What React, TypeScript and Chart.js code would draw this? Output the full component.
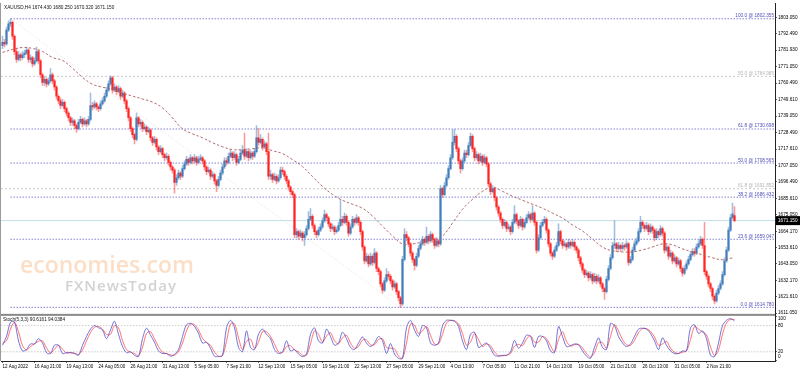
import React, { useEffect, useRef } from "react";
import { Chart, registerables } from "chart.js";

Chart.register(...registerables);

// ---------------- data ----------------
const symbolTitle = "XAUUSD,H4 1674.430 1680.250 1670.320 1671.150";
const stochTitle = "Stoch(5,3,3) 90.6161 94.0384";
const watermarkMain = "economies.com";
const watermarkSub = "FXNewsToday";

const timeLabels = [
  "12 Aug 2022", "16 Aug 21:00", "19 Aug 13:00", "24 Aug 05:00", "26 Aug 21:00", "31 Aug 13:00",
  "5 Sep 05:00", "7 Sep 21:00", "12 Sep 13:00", "15 Sep 05:00", "19 Sep 21:00", "22 Sep 13:00",
  "27 Sep 05:00", "29 Sep 21:00", "4 Oct 13:00", "7 Oct 05:00", "11 Oct 21:00", "14 Oct 13:00",
  "19 Oct 05:00", "21 Oct 21:00", "26 Oct 13:00", "31 Oct 05:00", "2 Nov 21:00",
];
const barsPerTimeLabel = 16;

const priceTicks = [
  1803.05, 1792.49, 1781.93, 1771.05, 1760.49, 1749.61, 1739.05, 1728.49, 1717.61, 1707.05,
  1696.49, 1685.61, 1675.05, 1664.17, 1653.61, 1643.05, 1632.17, 1621.61, 1611.05,
];
const stochTicks = [100, 80, 20, 0];
const stochLevels = [80, 20];

const fibRatios = [100.0, 61.8, 50.0, 38.2, 23.6, 0.0];
const fibPrices = [1802.355, 1730.698, 1708.565, 1686.432, 1659.047, 1614.78];
const fib2Ratios = [50.0, 61.8];
const fib2Prices = [1764.985, 1691.852];
const currentPrice = 1671.15;

const opens = [
  1785, 1787, 1786, 1795, 1799, 1800, 1791, 1781, 1776, 1779,
  1777, 1779, 1780, 1782, 1776, 1777, 1773, 1775, 1781, 1775,
  1766, 1761, 1763, 1760, 1762, 1766, 1762, 1758, 1752, 1749,
  1746, 1748, 1744, 1741, 1738, 1735, 1736, 1733, 1731, 1735,
  1737, 1734, 1736, 1734, 1737, 1746, 1745, 1747, 1745, 1744,
  1747, 1749, 1752, 1756, 1760, 1764, 1756, 1758, 1755, 1757,
  1752, 1754, 1749, 1744, 1738, 1731, 1727, 1724, 1738, 1734,
  1735, 1731, 1732, 1729, 1730, 1725, 1722, 1724, 1719, 1716,
  1718, 1714, 1712, 1713, 1709, 1706, 1704, 1696, 1699, 1702,
  1700, 1705, 1708, 1711, 1709, 1712, 1710, 1712, 1709, 1711,
  1712, 1710, 1706, 1703, 1704, 1700, 1701, 1697, 1694, 1698,
  1702, 1706, 1710, 1709, 1713, 1715, 1712, 1714, 1709, 1711,
  1715, 1717, 1713, 1716, 1712, 1715, 1713, 1716, 1725, 1722,
  1724, 1719, 1721, 1716, 1700, 1701, 1698, 1700, 1697, 1699,
  1704, 1703, 1700, 1697, 1693, 1690, 1688, 1662, 1664, 1661,
  1663, 1660, 1662, 1666, 1672, 1674, 1668, 1664, 1662, 1665,
  1667, 1671, 1675, 1673, 1669, 1666, 1667, 1664, 1665, 1668,
  1672, 1670, 1674, 1670, 1663, 1667, 1672, 1670, 1673, 1670,
  1664, 1654, 1645, 1648, 1643, 1648, 1644, 1650, 1640, 1638,
  1630, 1626, 1632, 1636, 1635, 1632, 1628, 1630, 1625, 1621,
  1617, 1646, 1662, 1660, 1656, 1650, 1646, 1642, 1648, 1653,
  1656, 1659, 1657, 1661, 1658, 1662, 1659, 1655, 1658, 1656,
  1692, 1688, 1694, 1699, 1705, 1712, 1722, 1726, 1718, 1710,
  1705, 1710, 1715, 1714, 1720, 1726, 1718, 1712, 1714, 1710,
  1713, 1709, 1712, 1708, 1695, 1690, 1692, 1686, 1680, 1676,
  1672, 1668, 1670, 1666, 1667, 1664, 1670, 1675, 1671, 1668,
  1672, 1667, 1670, 1673, 1675, 1672, 1676, 1670, 1652, 1660,
  1668, 1670, 1672, 1665, 1656, 1650, 1648, 1652, 1655, 1664,
  1658, 1655, 1656, 1654, 1657, 1655, 1657, 1654, 1652, 1647,
  1643, 1639, 1636, 1637, 1634, 1636, 1632, 1635, 1632, 1634,
  1630, 1627, 1625, 1633, 1640, 1647, 1655, 1656, 1653, 1655,
  1653, 1655, 1654, 1656, 1644, 1646, 1652, 1656, 1658, 1664,
  1670, 1668, 1666, 1668, 1664, 1667, 1665, 1660, 1664, 1662,
  1666, 1663, 1652, 1654, 1648, 1650, 1645, 1647, 1643, 1645,
  1640, 1637, 1640, 1643, 1646, 1649, 1651, 1650, 1654, 1656,
  1659, 1655, 1638, 1635, 1630, 1627, 1622, 1619, 1624, 1627,
  1630, 1636, 1645, 1652, 1665, 1673, 1674.43,
];

const highs = [
  1791, 1789, 1797, 1801, 1802.355, 1801, 1792, 1783, 1781, 1780,
  1781, 1782, 1784, 1783, 1779, 1778, 1777, 1784, 1782, 1776,
  1767, 1765, 1764, 1764, 1770, 1767, 1763, 1759, 1753, 1751,
  1750, 1749, 1745, 1742, 1739, 1738, 1737, 1734, 1737, 1739,
  1738, 1738, 1737, 1739, 1754, 1748, 1749, 1748, 1746, 1749,
  1751, 1754, 1758, 1762, 1765.3, 1765, 1760, 1759, 1759, 1758,
  1756, 1755, 1750, 1745, 1739, 1732, 1728, 1741, 1739, 1737,
  1736, 1734, 1733, 1732, 1731, 1726, 1726, 1725, 1720, 1720,
  1719, 1715, 1715, 1714, 1710, 1707, 1705, 1701, 1704, 1703,
  1707, 1710, 1713, 1712, 1714, 1713, 1714, 1713, 1713, 1714,
  1713, 1711, 1707, 1706, 1705, 1703, 1702, 1698, 1700, 1704,
  1708, 1712, 1712, 1715, 1717, 1716, 1716, 1715, 1713, 1717,
  1720, 1728, 1718, 1717, 1717, 1716, 1718, 1733, 1731, 1727,
  1725, 1723, 1722, 1728, 1704, 1702, 1702, 1701, 1701, 1706,
  1706, 1704, 1701, 1698, 1694, 1691, 1689, 1666, 1665, 1665,
  1664, 1664, 1668, 1677, 1679, 1675, 1669, 1665, 1667, 1669,
  1673, 1678, 1676, 1674, 1670, 1669, 1668, 1667, 1670, 1685,
  1674, 1676, 1675, 1671, 1669, 1674, 1673, 1675, 1674, 1671,
  1665, 1655, 1650, 1649, 1650, 1649, 1653, 1651, 1641, 1639,
  1631, 1634, 1640, 1638, 1636, 1633, 1632, 1631, 1626, 1622,
  1648, 1666, 1664, 1661, 1657, 1651, 1647, 1650, 1655, 1658,
  1661, 1660, 1667, 1662, 1664, 1663, 1660, 1660, 1659, 1694,
  1693, 1696, 1701, 1707, 1714, 1730, 1730.5, 1727, 1719, 1711,
  1712, 1717, 1717, 1722, 1728, 1727, 1719, 1716, 1715, 1715,
  1714, 1714, 1713, 1709, 1696, 1694, 1693, 1687, 1681, 1677,
  1673, 1672, 1671, 1669, 1668, 1672, 1681, 1676, 1672, 1674,
  1673, 1672, 1675, 1677, 1676, 1681, 1677, 1671, 1662, 1670,
  1672, 1674, 1673, 1666, 1657, 1651, 1654, 1657, 1669, 1665,
  1659, 1658, 1657, 1659, 1658, 1659, 1658, 1655, 1653, 1648,
  1644, 1640, 1639, 1638, 1638, 1637, 1637, 1636, 1636, 1635,
  1631, 1628, 1635, 1642, 1649, 1657, 1671, 1657, 1657, 1656,
  1657, 1656, 1658, 1657, 1648, 1654, 1658, 1660, 1666, 1674,
  1671, 1669, 1670, 1669, 1669, 1668, 1666, 1666, 1665, 1668,
  1667, 1664, 1656, 1655, 1652, 1651, 1649, 1648, 1647, 1646,
  1641, 1642, 1645, 1648, 1651, 1653, 1653, 1656, 1658, 1661,
  1660, 1670, 1639, 1636, 1631, 1628, 1623, 1626, 1629, 1632,
  1638, 1647, 1654, 1667, 1675, 1682.5, 1680.25,
];

const lows = [
  1783, 1784, 1785, 1794, 1797, 1789, 1779, 1774, 1775, 1775,
  1776, 1777, 1779, 1774, 1774, 1771, 1772, 1774, 1773, 1764,
  1759, 1759, 1758, 1759, 1761, 1760, 1756, 1750, 1747, 1744,
  1745, 1742, 1739, 1736, 1733, 1733, 1731, 1728.5, 1730, 1734,
  1732, 1733, 1732, 1733, 1736, 1743, 1744, 1743, 1742, 1743,
  1746, 1748, 1751, 1755, 1759, 1754, 1755, 1753, 1754, 1750,
  1751, 1747, 1742, 1736, 1729, 1725, 1721, 1723, 1732, 1732,
  1729, 1730, 1727, 1728, 1723, 1720, 1721, 1717, 1714, 1715,
  1712, 1710, 1711, 1707, 1704, 1702, 1689, 1694, 1698, 1698,
  1699, 1704, 1707, 1707, 1708, 1708, 1709, 1707, 1708, 1710,
  1708, 1704, 1701, 1702, 1698, 1699, 1695, 1690, 1693, 1697,
  1701, 1705, 1707, 1708, 1712, 1710, 1711, 1707, 1708, 1710,
  1714, 1711, 1712, 1710, 1711, 1711, 1712, 1715, 1720, 1721,
  1717, 1718, 1714, 1698, 1698, 1696, 1697, 1695, 1696, 1698,
  1701, 1698, 1695, 1691, 1688, 1686, 1660, 1660, 1659, 1660,
  1658, 1655, 1661, 1665, 1671, 1666, 1662, 1660, 1661, 1664,
  1666, 1670, 1671, 1667, 1664, 1665, 1662, 1663, 1664, 1667,
  1668, 1669, 1668, 1661, 1662, 1666, 1668, 1669, 1668, 1662,
  1652, 1643, 1644, 1641, 1642, 1642, 1643, 1638, 1636, 1628,
  1624, 1625, 1631, 1633, 1630, 1626, 1627, 1623, 1619, 1614.78,
  1616, 1645, 1658, 1654, 1648, 1644, 1639, 1641, 1647, 1652,
  1655, 1655, 1656, 1656, 1657, 1657, 1653, 1654, 1654, 1655,
  1686, 1687, 1693, 1698, 1704, 1711, 1720, 1716, 1708, 1702,
  1704, 1709, 1712, 1713, 1719, 1716, 1710, 1711, 1708, 1709,
  1707, 1708, 1706, 1693, 1688, 1689, 1684, 1678, 1674, 1670,
  1666, 1667, 1664, 1665, 1662, 1663, 1669, 1669, 1666, 1667,
  1665, 1666, 1669, 1672, 1670, 1671, 1668, 1650, 1651, 1659,
  1667, 1669, 1663, 1654, 1648, 1646, 1647, 1651, 1654, 1656,
  1653, 1654, 1652, 1653, 1653, 1654, 1652, 1650, 1645, 1641,
  1637, 1634, 1635, 1632, 1633, 1630, 1631, 1630, 1631, 1628,
  1625, 1620, 1624, 1632, 1639, 1646, 1653, 1651, 1652, 1651,
  1652, 1652, 1653, 1642, 1643, 1645, 1651, 1655, 1657, 1663,
  1666, 1664, 1665, 1662, 1663, 1663, 1658, 1659, 1660, 1661,
  1661, 1650, 1651, 1646, 1647, 1643, 1644, 1641, 1642, 1638,
  1635, 1636, 1639, 1642, 1645, 1648, 1648, 1649, 1653, 1655,
  1653, 1636, 1633, 1628, 1625, 1620, 1617, 1618, 1623, 1626,
  1629, 1635, 1644, 1651, 1664, 1672, 1670.32,
];

const closes = [
  1787, 1786, 1795, 1799, 1800, 1791, 1781, 1776, 1779, 1777,
  1779, 1780, 1782, 1776, 1777, 1773, 1775, 1781, 1775, 1766,
  1761, 1763, 1760, 1762, 1766, 1762, 1758, 1752, 1749, 1746,
  1748, 1744, 1741, 1738, 1735, 1736, 1733, 1731, 1735, 1737,
  1734, 1736, 1734, 1737, 1746, 1745, 1747, 1745, 1744, 1747,
  1749, 1752, 1756, 1760, 1764, 1756, 1758, 1755, 1757, 1752,
  1754, 1749, 1744, 1738, 1731, 1727, 1724, 1738, 1734, 1735,
  1731, 1732, 1729, 1730, 1725, 1722, 1724, 1719, 1716, 1718,
  1714, 1712, 1713, 1709, 1706, 1704, 1696, 1699, 1702, 1700,
  1705, 1708, 1711, 1709, 1712, 1710, 1712, 1709, 1711, 1712,
  1710, 1706, 1703, 1704, 1700, 1701, 1697, 1694, 1698, 1702,
  1706, 1710, 1709, 1713, 1715, 1712, 1714, 1709, 1711, 1715,
  1717, 1713, 1716, 1712, 1715, 1713, 1716, 1725, 1722, 1724,
  1719, 1721, 1716, 1700, 1701, 1698, 1700, 1697, 1699, 1704,
  1703, 1700, 1697, 1693, 1690, 1688, 1662, 1664, 1661, 1663,
  1660, 1662, 1666, 1672, 1674, 1668, 1664, 1662, 1665, 1667,
  1671, 1675, 1673, 1669, 1666, 1667, 1664, 1665, 1668, 1672,
  1670, 1674, 1670, 1663, 1667, 1672, 1670, 1673, 1670, 1664,
  1654, 1645, 1648, 1643, 1648, 1644, 1650, 1640, 1638, 1630,
  1626, 1632, 1636, 1635, 1632, 1628, 1630, 1625, 1621, 1617,
  1646, 1662, 1660, 1656, 1650, 1646, 1642, 1648, 1653, 1656,
  1659, 1657, 1661, 1658, 1662, 1659, 1655, 1658, 1656, 1692,
  1688, 1694, 1699, 1705, 1712, 1722, 1726, 1718, 1710, 1705,
  1710, 1715, 1714, 1720, 1726, 1718, 1712, 1714, 1710, 1713,
  1709, 1712, 1708, 1695, 1690, 1692, 1686, 1680, 1676, 1672,
  1668, 1670, 1666, 1667, 1664, 1670, 1675, 1671, 1668, 1672,
  1667, 1670, 1673, 1675, 1672, 1676, 1670, 1652, 1660, 1668,
  1670, 1672, 1665, 1656, 1650, 1648, 1652, 1655, 1664, 1658,
  1655, 1656, 1654, 1657, 1655, 1657, 1654, 1652, 1647, 1643,
  1639, 1636, 1637, 1634, 1636, 1632, 1635, 1632, 1634, 1630,
  1627, 1625, 1633, 1640, 1647, 1655, 1656, 1653, 1655, 1653,
  1655, 1654, 1656, 1644, 1646, 1652, 1656, 1658, 1664, 1670,
  1668, 1666, 1668, 1664, 1667, 1665, 1660, 1664, 1662, 1666,
  1663, 1652, 1654, 1648, 1650, 1645, 1647, 1643, 1645, 1640,
  1637, 1640, 1643, 1646, 1649, 1651, 1650, 1654, 1656, 1659,
  1655, 1638, 1635, 1630, 1627, 1622, 1619, 1624, 1627, 1630,
  1636, 1645, 1652, 1665, 1673, 1675.5, 1671.15,
];

// moving average, one reading every 5 bars
const maEvery = 5;
const maValues = [
  1780.5, 1782.4, 1783.7, 1783.1, 1781.1, 1777.2, 1775.3, 1770.2, 1764.3, 1759.8,
  1757.9, 1756.6, 1754.0, 1752.1, 1750.2, 1748.2, 1744.4, 1737.9, 1730.8, 1727.6,
  1725.0, 1721.8, 1719.2, 1717.3, 1717.3, 1717.9, 1718.5, 1716.6, 1714.7, 1710.8,
  1706.3, 1699.8, 1693.4, 1688.2, 1684.4, 1681.8, 1679.2, 1674.1, 1667.6, 1661.2,
  1656.0, 1656.0, 1657.3, 1658.6, 1661.2, 1669.6, 1678.5, 1685.0, 1690.2, 1692.8,
  1690.2, 1687.0, 1684.4, 1681.8, 1679.2, 1676.0, 1672.8, 1668.3, 1664.4, 1659.2,
  1654.0, 1651.5, 1650.8, 1650.8, 1652.1, 1654.0, 1656.0, 1655.4, 1652.8, 1650.8,
  1648.9, 1647.0, 1645.7, 1647.0,
];

// stochastic, one reading every 2 bars
const stochEvery = 2;
const stochMain = [
  35, 55, 88, 88, 45, 22, 25, 38, 38, 50,
  40, 18, 16, 35, 35, 16, 18, 18, 16, 12,
  35, 55, 72, 80, 75, 70, 50, 70, 90, 60,
  32, 18, 20, 12, 9, 50, 74, 58, 42, 22,
  16, 16, 10, 14, 25, 55, 82, 85, 78, 62,
  40, 42, 28, 10, 9, 12, 75, 92, 75, 30,
  20, 68, 30, 25, 60, 72, 60, 50, 25, 16,
  20, 45, 22, 25, 15, 9, 15, 60, 75, 45,
  40, 72, 55, 35, 40, 65, 50, 30, 25, 40,
  54, 40, 32, 40, 55, 45, 16, 39, 15, 5,
  5, 75, 92, 70, 55, 80, 75, 40, 35, 40,
  80, 92, 92, 90, 78, 45, 25, 60, 65, 30,
  35, 40, 28, 12, 10, 12, 12, 20, 46, 28,
  40, 58, 55, 30, 55, 55, 45, 22, 18, 78,
  55, 32, 34, 38, 36, 22, 10, 5, 30, 52,
  30, 25, 85, 80, 55, 40, 32, 38, 55, 72,
  74, 72, 62, 45, 25, 52, 35, 22, 16, 16,
  22, 22, 75, 82, 62, 68, 50, 12, 9, 40,
  80, 92, 96, 90.6161,
];
const stochSignal = [
  40, 45, 72, 88, 66, 34, 24, 32, 38, 44,
  45, 29, 17, 26, 35, 26, 17, 18, 17, 14,
  24, 45, 64, 76, 78, 72, 60, 60, 80, 75,
  46, 25, 19, 16, 11, 30, 62, 66, 50, 32,
  19, 16, 13, 12, 20, 40, 68, 84, 82, 70,
  51, 41, 35, 19, 10, 11, 44, 84, 84, 52,
  25, 44, 49, 28, 42, 66, 66, 55, 38, 20,
  18, 32, 34, 24, 20, 12, 12, 38, 68, 60,
  42, 56, 64, 45, 38, 52, 58, 40, 28, 32,
  47, 47, 36, 36, 48, 50, 30, 28, 27, 10,
  5, 40, 84, 81, 62, 68, 78, 58, 38, 38,
  60, 86, 92, 91, 84, 62, 35, 42, 62, 48,
  32, 38, 34, 20, 11, 11, 12, 16, 33, 37,
  34, 49, 57, 42, 42, 55, 50, 34, 20, 48,
  66, 44, 33, 36, 37, 29, 16, 8, 18, 41,
  41, 28, 55, 82, 68, 48, 36, 35, 46, 64,
  73, 73, 67, 54, 35, 38, 44, 28, 19, 16,
  19, 22, 48, 78, 72, 65, 59, 31, 11, 24,
  60, 86, 94, 94.0384,
];

// ---------------- styling ----------------
const FONT = "'Liberation Sans', Arial, sans-serif";
const FS = 4.7;
const FS_X = 4.5;
const BULL = "rgb(66,126,188)";
const BEAR = "rgb(255,36,36)";
const BULL_WICK = "rgba(66,126,188,0.5)";
const BEAR_WICK = "rgba(255,50,50,0.5)";
const FIB_COLOR = "rgba(90,90,200,0.85)";
const FIB_TEXT = "rgb(80,80,185)";
const FIB2_COLOR = "rgba(170,170,170,0.8)";
const FIB2_TEXT = "rgb(180,180,180)";

const X_MIN = -0.75;
const X_MAX = 386.25;

export default function App() {
  const ref = useRef<HTMLCanvasElement | null>(null);

  useEffect(() => {
    document.body.style.margin = "0";
    const canvas = ref.current;
    if (!canvas) return;

    const isBull = closes.map((c, i) => c >= opens[i]);
    const hiIdx = highs.indexOf(Math.max(...highs));
    const loIdx = lows.indexOf(Math.min(...lows));

    const lineDs = (data: any[], color: string, width: number, dash: number[], axis = "y", order = 8) => ({
      type: "line" as const,
      data,
      borderColor: color,
      borderWidth: width,
      borderDash: dash,
      pointRadius: 0,
      fill: false,
      yAxisID: axis,
      order,
    });

    const datasets: any[] = [];
    datasets.push(lineDs([{ x: X_MIN, y: currentPrice }, { x: X_MAX, y: currentPrice }], "rgb(196,220,234)", 1, [], "y", 12));
    fib2Prices.forEach((p) => {
      datasets.push(lineDs([{ x: X_MIN, y: p }, { x: X_MAX, y: p }], FIB2_COLOR, 0.8, [2, 2], "y", 11));
    });
    datasets.push(lineDs([{ x: hiIdx, y: fibPrices[0] }, { x: loIdx, y: fibPrices[fibPrices.length - 1] }], "rgba(200,200,200,0.7)", 0.6, [1.5, 2], "y", 11));
    fibPrices.forEach((p) => {
      datasets.push(lineDs([{ x: hiIdx, y: p }, { x: X_MAX, y: p }], FIB_COLOR, 0.9, [1.5, 1.5], "y", 10));
    });
    datasets.push({
      type: "bar",
      data: highs.map((h, i) => ({ x: i, y: [lows[i], h] })),
      backgroundColor: isBull.map((b) => (b ? BULL_WICK : BEAR_WICK)),
      barThickness: 0.9,
      grouped: false,
      yAxisID: "y",
      order: 6,
    });
    datasets.push({
      type: "bar",
      data: opens.map((o, i) => ({ x: i, y: [o, closes[i]] })),
      backgroundColor: isBull.map((b) => (b ? BULL : BEAR)),
      barThickness: 1.5,
      minBarLength: 0.8,
      grouped: false,
      yAxisID: "y",
      order: 5,
    });
    datasets.push({
      ...lineDs(maValues.map((v, k) => ({ x: k * maEvery, y: v })), "rgba(175,100,100,0.95)", 1, [2.5, 2], "y", 2),
      tension: 0.4,
    });
    stochLevels.forEach((lv) => {
      datasets.push(lineDs([{ x: X_MIN, y: lv }, { x: X_MAX, y: lv }], "rgba(175,175,175,0.9)", 0.7, [1.5, 1.5], "y2", 10));
    });
    datasets.push({
      ...lineDs(stochSignal.map((v, k) => ({ x: k * stochEvery, y: v })), "rgba(255,70,70,0.95)", 0.8, [], "y2", 3),
      tension: 0.3,
    });
    datasets.push({
      ...lineDs(stochMain.map((v, k) => ({ x: k * stochEvery, y: v })), "rgba(70,70,200,0.95)", 0.8, [], "y2", 2),
      tension: 0.3,
    });

    const overlay = {
      id: "overlay",
      beforeDatasetsDraw(chart: any) {
        const { ctx, chartArea } = chart;
        ctx.save();
        ctx.textBaseline = "alphabetic";
        ctx.textAlign = "left";
        ctx.font = `600 23px 'Open Sans', sans-serif`;
        ctx.fillStyle = "rgba(246,176,116,0.42)";
        ctx.fillText(watermarkMain, chartArea.left + 19, 273);
        ctx.font = `600 15px 'Open Sans', sans-serif`;
        (ctx as any).letterSpacing = "1px";
        ctx.fillStyle = "rgba(165,165,165,0.5)";
        ctx.fillText(watermarkSub, chartArea.left + 64, 291);
        ctx.restore();
      },
      afterDatasetsDraw(chart: any) {
        const { ctx, chartArea, scales } = chart;
        const y = scales.y;
        const y2 = scales.y2;
        ctx.save();
        ctx.font = `${FS}px ${FONT}`;
        ctx.textAlign = "right";
        ctx.textBaseline = "bottom";
        fibPrices.forEach((p, i) => {
          ctx.fillStyle = FIB_TEXT;
          ctx.fillText(`${fibRatios[i].toFixed(1)} @ ${p.toFixed(3)}`, chartArea.right - 1, y.getPixelForValue(p) - 0.5);
        });
        fib2Prices.forEach((p, i) => {
          ctx.fillStyle = FIB2_TEXT;
          ctx.fillText(`${fib2Ratios[i].toFixed(1)} @ ${p.toFixed(3)}`, chartArea.right - 1, y.getPixelForValue(p) - 0.5);
        });
        ctx.textAlign = "left";
        ctx.textBaseline = "middle";
        ctx.fillStyle = "#111";
        ctx.fillText(symbolTitle, chartArea.left + 3, chartArea.top + 4);
        ctx.fillText(stochTitle, chartArea.left + 2, y2.top + 5);
        ctx.restore();
      },
      afterDraw(chart: any) {
        const { ctx, chartArea, scales } = chart;
        const y2 = scales.y2;
        ctx.save();
        ctx.fillStyle = "#8a8a8a";
        ctx.fillRect(chartArea.left, y2.top - 0.5, chartArea.right - chartArea.left, 2);
        ctx.fillStyle = "#9a9a9a";
        ctx.fillRect(chartArea.left - 1, chartArea.top - 1, 1, chartArea.bottom - chartArea.top + 1);
        ctx.font = `${FS}px ${FONT}`;
        ctx.textAlign = "left";
        ctx.textBaseline = "middle";
        ctx.fillStyle = "#000";
        stochTicks.forEach((v) => {
          const py = Math.min(Math.max(y2.getPixelForValue(v), y2.top + 4.5), y2.bottom - 4);
          ctx.fillText(String(v), chartArea.right + 3, py);
        });
        const py = scales.y.getPixelForValue(currentPrice);
        ctx.fillStyle = "#000";
        ctx.fillRect(chartArea.right + 1, py - 4.5, chart.width - chartArea.right - 1, 9);
        ctx.fillStyle = "#fff";
        ctx.fillText(currentPrice.toFixed(3), chartArea.right + 3, py);
        ctx.restore();
      },
    };

    const chart = new Chart(canvas, {
      type: "bar",
      data: { datasets },
      options: {
        animation: false,
        responsive: false,
        devicePixelRatio: 1,
        events: [],
        layout: { padding: { left: 1, top: 1, right: 0, bottom: 0 } },
        plugins: { legend: { display: false }, tooltip: { enabled: false } },
        scales: {
          x: {
            type: "linear",
            min: X_MIN,
            max: X_MAX,
            offset: false,
            position: "bottom",
            grid: { display: true, offset: false, drawOnChartArea: false, drawTicks: true, tickLength: 2, color: "#000", lineWidth: 0.6 },
            border: { display: true, color: "#222", width: 1 },
            afterBuildTicks: (s: any) => {
              s.ticks = timeLabels.map((_, k) => ({ value: k * barsPerTimeLabel }));
            },
            afterFit: (s: any) => {
              s.height = 11;
            },
            ticks: {
              autoSkip: false,
              maxRotation: 0,
              align: "start",
              padding: 1.5,
              color: "#000",
              font: { family: FONT, size: FS_X },
              callback: (v: any) => timeLabels[Math.round(Number(v) / barsPerTimeLabel)] ?? "",
            },
          },
          y: {
            type: "linear",
            position: "right",
            stack: "pane",
            stackWeight: 313,
            min: 1610.21,
            max: 1812.08,
            grid: { display: true, drawOnChartArea: false, drawTicks: true, tickLength: 2, color: "#000", lineWidth: 0.6 },
            border: { display: true, color: "#222", width: 1 },
            afterBuildTicks: (s: any) => {
              s.ticks = priceTicks.map((v) => ({ value: v }));
            },
            afterFit: (s: any) => {
              s.width = 25;
            },
            ticks: {
              autoSkip: false,
              padding: 1,
              color: "#000",
              font: { family: FONT, size: FS },
              callback: (v: any) => Number(v).toFixed(3),
            },
          },
          y2: {
            type: "linear",
            position: "right",
            stack: "pane",
            stackWeight: 47,
            min: -1.1,
            max: 105.7,
            grid: { display: true, drawOnChartArea: false, drawTicks: true, tickLength: 2, color: "#000", lineWidth: 0.6 },
            border: { display: true, color: "#222", width: 1 },
            afterBuildTicks: (s: any) => {
              s.ticks = stochTicks.map((v) => ({ value: v }));
            },
            afterFit: (s: any) => {
              s.width = 25;
            },
            ticks: {
              display: false,
              autoSkip: false,
            },
          },
        },
      } as any,
      plugins: [overlay],
    });

    return () => {
      chart.destroy();
    };
  }, []);

  return (
    <div style={{ width: 800, height: 372, background: "#fff" }}>
      <canvas ref={ref} width={800} height={372} style={{ display: "block" }} />
    </div>
  );
}
